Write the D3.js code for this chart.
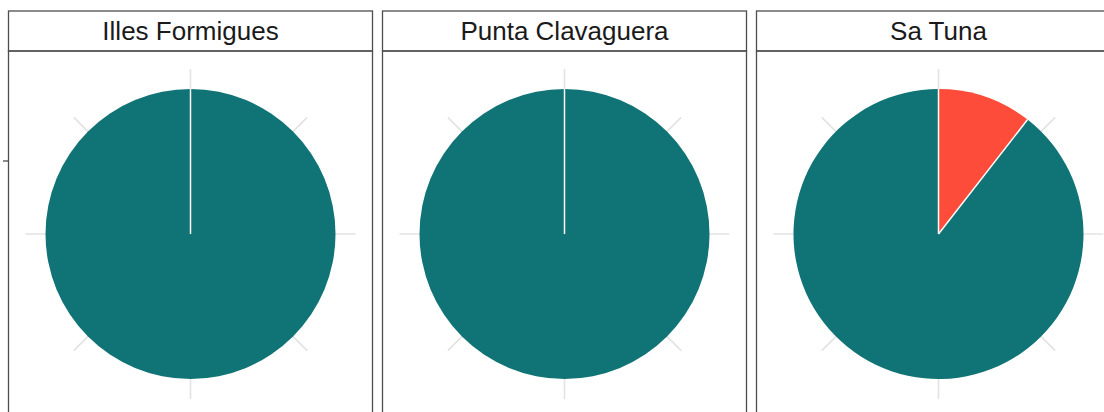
<!DOCTYPE html>
<html>
<head>
    <title>Pie facets</title>
    <style>
        body { margin: 0; background: #fff; }
        .strip-text { font-family: "Liberation Sans", Arial, sans-serif; font-size: 26px; fill: #1a1a1a; }
        .frame { fill: none; stroke: #4d4d4d; stroke-width: 1.3px; }
        .spoke { stroke: #e3e3e3; stroke-width: 1.6px; }
    </style>
</head>
<body>
<div id="chart"></div>
<script src="https://d3js.org/d3.v7.min.js"></script>
<script>
    const sites = ["Illes Formigues", "Punta Clavaguera", "Sa Tuna"];
    const groups = ["Present", "Absent"];
    const presentCounts = [0, 0, 2];
    const absentCounts = [19, 21, 17];
    const groupColors = ["#fe4c3b", "#107375"];

    const width = 1104, height = 412;
    const panelW = 364, stripTop = 11, stripH = 40, panelGap = 10;

    const svg = d3.select('#chart').append('svg')
        .attr('width', width)
        .attr('height', height);

    const x = d3.scaleBand().domain(sites).range([8.5, 8.5 + 3 * panelW + 2 * panelGap]).paddingInner(panelGap / (panelW + panelGap));
    const color = d3.scaleOrdinal().domain(groups).range(groupColors);

    const bodyTop = stripTop + stripH;
    const bodyH = panelW;
    const outerR = 145;
    const gridR = 165;

    const pie = d3.pie().sort(null).value(d => d.value);
    const arc = d3.arc().innerRadius(0).outerRadius(outerR);

    // little leftover axis tick on the far left
    svg.append('line').attr('x1', 3).attr('x2', 8.5).attr('y1', 161).attr('y2', 161)
        .attr('stroke', '#4d4d4d').attr('stroke-width', 1.3);

    sites.forEach((site, i) => {
        const px = x(site);
        const g = svg.append('g');

        // strip
        g.append('rect').attr('class', 'frame')
            .attr('x', px).attr('y', stripTop).attr('width', panelW).attr('height', stripH)
            .attr('fill', '#fff');
        g.append('text').attr('class', 'strip-text')
            .attr('x', px + panelW / 2).attr('y', stripTop + stripH / 2 + 2)
            .attr('text-anchor', 'middle').attr('dominant-baseline', 'middle')
            .text(site);

        // panel body
        g.append('rect').attr('class', 'frame')
            .attr('x', px).attr('y', bodyTop).attr('width', panelW).attr('height', bodyH);

        const cx = px + panelW / 2, cy = 234;
        const pg = g.append('g').attr('transform', `translate(${cx},${cy})`);

        // theta grid spokes
        const angles = d3.range(8).map(k => k * Math.PI / 4);
        pg.selectAll('line.spoke').data(angles).enter().append('line')
            .attr('class', 'spoke')
            .attr('x1', 0).attr('y1', 0)
            .attr('x2', a => gridR * Math.sin(a))
            .attr('y2', a => -gridR * Math.cos(a));

        const data = [
            { group: groups[0], value: presentCounts[i] },
            { group: groups[1], value: absentCounts[i] }
        ];
        const slices = pie(data).filter(d => d.value > 0);

        pg.selectAll('path').data(slices).enter().append('path')
            .attr('d', arc)
            .attr('fill', d => color(d.data.group));

        // white slice outlines along the radial edges
        pg.selectAll('line.edge').data(slices).enter().append('line')
            .attr('class', 'edge')
            .attr('x1', 0).attr('y1', 0)
            .attr('x2', d => outerR * Math.sin(d.startAngle))
            .attr('y2', d => -outerR * Math.cos(d.startAngle))
            .attr('stroke', '#fff').attr('stroke-width', 1.5);
    });
</script>
</body>
</html>
